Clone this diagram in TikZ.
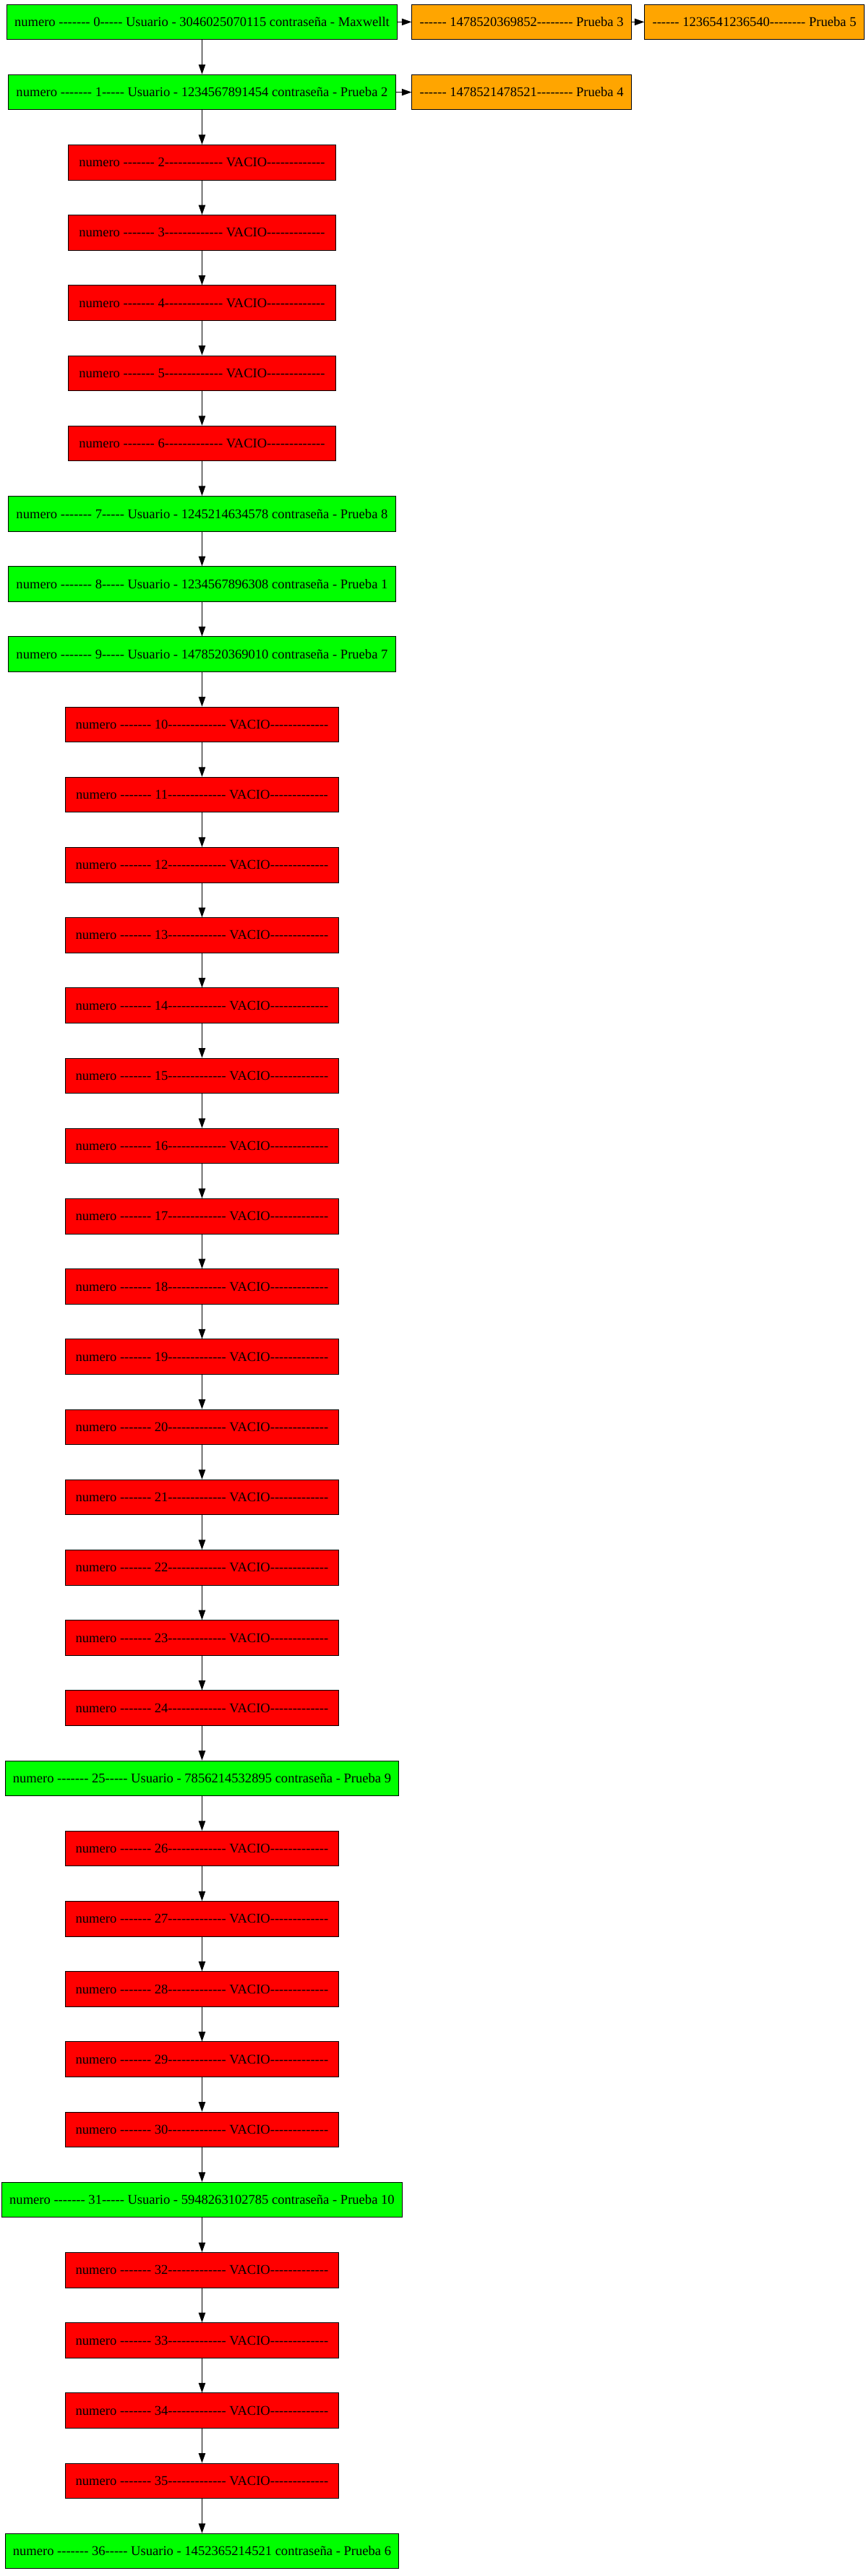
\documentclass[tikz,border=0pt]{standalone}
\usepackage{fontspec}
\setmainfont{Liberation Serif}[Ligatures=TeXOff]
\usetikzlibrary{arrows.meta}
\definecolor{gvgreen}{RGB}{0,255,0}
\definecolor{gvred}{RGB}{255,0,0}
\definecolor{gvorange}{RGB}{255,165,0}
\tikzset{
  base/.style={draw=black, line width=0.75pt, rectangle, inner xsep=8pt, inner ysep=0pt,
    minimum height=36pt, font=\fontsize{13.75pt}{16pt}\selectfont, text=black},
  usedbox/.style={base, fill=gvgreen},
  emptybox/.style={base, fill=gvred, inner xsep=10.8pt},
  extrabox/.style={base, fill=gvorange},
  link/.style={draw=black, line width=0.75pt, -{Triangle[length=10pt,width=7pt]}}
}
\begin{document}
\begin{tikzpicture}[x=1pt,y=1pt]
\useasboundingbox (0,0) rectangle (887.4,-2640);
\def\cx{207}
% green (used) nodes
\node[usedbox] (n0) at (\cx,{-(22.5+72*0)}) {numero ------- 0----- Usuario - 3046025070115 contraseña - Maxwellt};
\node[usedbox] (n1) at (\cx,{-(22.5+72*1)}) {numero ------- 1----- Usuario - 1234567891454 contraseña - Prueba 2};
\node[usedbox] (n7) at (\cx,{-(22.5+72*7)}) {numero ------- 7----- Usuario - 1245214634578 contraseña - Prueba 8};
\node[usedbox] (n8) at (\cx,{-(22.5+72*8)}) {numero ------- 8----- Usuario - 1234567896308 contraseña - Prueba 1};
\node[usedbox] (n9) at (\cx,{-(22.5+72*9)}) {numero ------- 9----- Usuario - 1478520369010 contraseña - Prueba 7};
\node[usedbox] (n25) at (\cx,{-(22.5+72*25)}) {numero ------- 25----- Usuario - 7856214532895 contraseña - Prueba 9};
\node[usedbox] (n31) at (\cx,{-(22.5+72*31)}) {numero ------- 31----- Usuario - 5948263102785 contraseña - Prueba 10};
\node[usedbox] (n36) at (\cx,{-(22.5+72*36)}) {numero ------- 36----- Usuario - 1452365214521 contraseña - Prueba 6};
% red (empty) nodes
\foreach \i in {2,3,4,5,6,10,11,12,13,14,15,16,17,18,19,20,21,22,23,24,26,27,28,29,30,32,33,34,35}{
  \node[emptybox] (n\i) at (\cx,{-(22.5+72*\i)}) {numero ------- \i------------- VACIO-------------};
}
% orange (overflow) nodes
\node[extrabox] (a) at (534.5,{-(22.5)}) {------ 1478520369852-------- Prueba 3};
\node[extrabox] (b) at (773,{-(22.5)}) {------ 1236541236540-------- Prueba 5};
\node[extrabox] (c) at (534.5,{-(22.5+72)}) {------ 1478521478521-------- Prueba 4};
% connectors
\foreach \i in {0,...,35}{
  \pgfmathtruncatemacro{\j}{\i+1}
  \draw[link] (n\i) -- (n\j);
}
\draw[link] (n0) -- (a);
\draw[link] (a) -- (b);
\draw[link] (n1) -- (c);
\end{tikzpicture}
\end{document}
